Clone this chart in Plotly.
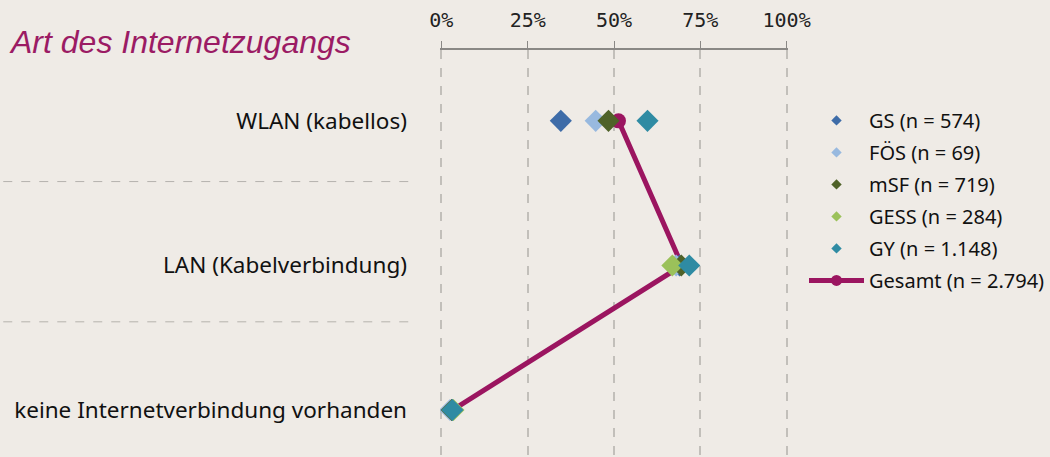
import plotly.graph_objects as go

categories = ["WLAN (kabellos)", "LAN (Kabelverbindung)", "keine Internetverbindung vorhanden"]
series_names = ["GS (n = 574)", "FÖS (n = 69)", "mSF (n = 719)", "GESS (n = 284)", "GY (n = 1.148)"]
gs = [34.6, 69.0, 3.0]
foes = [44.7, 68.0, 2.5]
msf = [48.4, 69.5, 3.0]
gess = [None, 66.9, 3.5]
gy = [59.7, 71.8, 3.2]
gesamt_name = "Gesamt (n = 2.794)"
gesamt = [51.3, 69.7, 3.2]
tick_vals = [0, 25, 50, 75, 100]
tick_text = ["0%", "25%", "50%", "75%", "100%"]

series_values = [gs, foes, msf, gess, gy]
colors = ["#3e6ca8", "#98b9df", "#4f6228", "#9bc15a", "#2f8ba3"]
gesamt_color = "#9b1560"
bg = "#efebe6"
font_family = "Noto Sans, DejaVu Sans, sans-serif"

fig = go.Figure()

# Gesamt line drawn first (underneath the diamonds)
fig.add_trace(go.Scatter(
    x=gesamt, y=categories, mode="lines+markers", name=gesamt_name,
    line=dict(color=gesamt_color, width=5),
    marker=dict(symbol="circle", size=15, color=gesamt_color),
    showlegend=False))

for name, vals, c in zip(series_names, series_values, colors):
    fig.add_trace(go.Scatter(
        x=vals, y=categories, mode="markers", name=name,
        marker=dict(symbol="diamond", size=17, color=c, line=dict(width=0)),
        showlegend=False))

# legend entries
for i, (name, c) in enumerate(zip(series_names, colors)):
    fig.add_trace(go.Scatter(
        x=[None], y=[None], mode="markers", name=name,
        marker=dict(symbol="diamond", size=8, color=c),
        legendgroup="g%d" % i, legendrank=i + 1, showlegend=True))
fig.add_trace(go.Scatter(
    x=[None], y=[None], mode="lines+markers", name=gesamt_name,
    line=dict(color=gesamt_color, width=5),
    marker=dict(symbol="circle", size=11, color=gesamt_color),
    legendgroup="g9", legendrank=10, showlegend=True))

# separators on the category side
for yv in [0.42, 1.39]:
    fig.add_shape(type="line", xref="paper", yref="y",
                  x0=-1.255, x1=-0.09, y0=yv, y1=yv,
                  line=dict(color="#b5b2ad", width=1, dash="dash"))

fig.update_layout(
    width=1050, height=457,
    paper_bgcolor=bg, plot_bgcolor=bg,
    margin=dict(l=440, r=261, t=50, b=0),
    font=dict(family=font_family, size=18, color="#111111"),
    showlegend=True,
    legend=dict(x=1.045, y=0.875, xanchor="left", yanchor="top",
                bgcolor="rgba(0,0,0,0)", itemwidth=55, tracegroupgap=3,
                font=dict(size=20, color="#111111"), traceorder="grouped"),
    annotations=[dict(text="<i>Art des Internetzugangs</i>", xref="paper", yref="paper",
                      x=-1.243, y=1.02, xanchor="left", yanchor="middle", showarrow=False,
                      font=dict(family="Liberation Sans, Arial, sans-serif", size=32,
                                color="#9b1b64"))],
)

fig.update_xaxes(range=[-0.4, 100.4], side="top", tickvals=tick_vals, ticktext=tick_text,
                 showgrid=True, gridcolor="#c2bfba", griddash="dash", gridwidth=1.5,
                 zeroline=False, showline=True, linecolor="#8a8885", linewidth=2,
                 ticks="outside", ticklen=7, tickcolor="#8a8885", ticklabelstandoff=6,
                 tickfont=dict(family="DejaVu Sans Mono, monospace", size=20, color="#222222"))
fig.update_yaxes(type="category", categoryorder="array", categoryarray=categories,
                 range=[2.325, -0.49], showgrid=False, zeroline=False, showline=False,
                 ticks="", ticklabelstandoff=32,
                 tickfont=dict(size=22.5, color="#111111"))

fig.write_html("out.html", config={"displayModeBar": False},
               post_script="document.body.style.margin='0';")
